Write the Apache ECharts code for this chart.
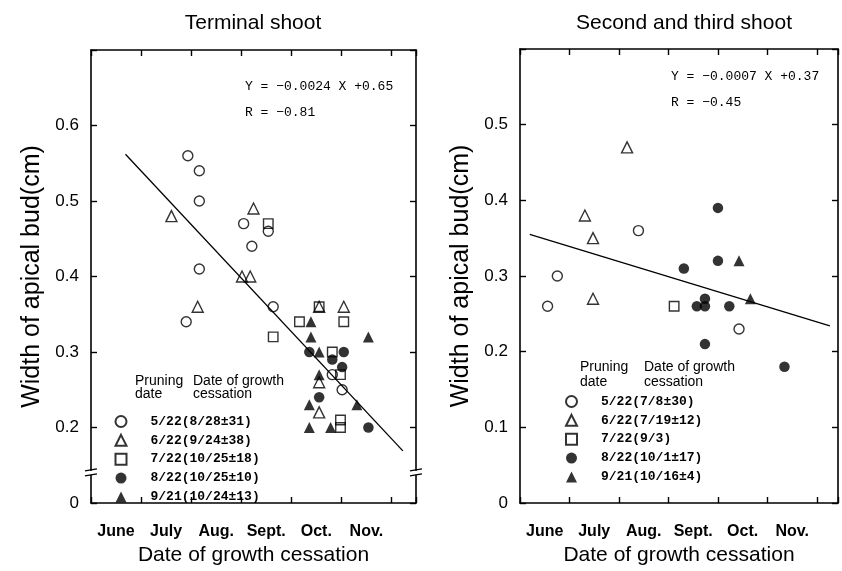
<!DOCTYPE html>
<html><head><meta charset="utf-8">
<script src="https://cdn.jsdelivr.net/npm/echarts@6/dist/echarts.min.js"></script>
<style>html,body{margin:0;padding:0;background:#fff}#c{width:842px;height:571px}</style>
</head><body><div id="c"></div>
<script>
// ---------- data (x = days after June 1, y = width of apical bud in cm) ----------
const monthLabels = ['June', 'July', 'Aug.', 'Sept.', 'Oct.', 'Nov.'];
const leftYTickValues = [0.1, 0.2, 0.3, 0.4, 0.5, 0.6, 0.7];
const leftYTickLabels = ['0', '0.2', '0.3', '0.4', '0.5', '0.6', ''];
const rightYTickValues = [0, 0.1, 0.2, 0.3, 0.4, 0.5, 0.6];
const rightYTickLabels = ['0', '0.1', '0.2', '0.3', '0.4', '0.5', ''];

const leftNames = ['5/22(8/28±31)', '6/22(9/24±38)', '7/22(10/25±18)', '8/22(10/25±10)', '9/21(10/24±13)'];
const rightNames = ['5/22(7/8±30)', '6/22(7/19±12)', '7/22(9/3)', '8/22(10/1±17)', '9/21(10/16±4)'];

// Terminal shoot
const tsCircle = [[59,0.56],[66,0.54],[66,0.50],[93,0.47],[108,0.46],[98,0.44],[66,0.41],[111,0.36],[58,0.34],[147,0.27],[153,0.25]];
const tsTriangle = [[49,0.48],[99,0.49],[92,0.40],[97,0.40],[65,0.36],[154,0.36],[139,0.36],[139,0.26],[139,0.22]];
const tsSquare = [[108,0.47],[111,0.32],[139,0.36],[127,0.34],[154,0.34],[147,0.30],[152,0.27],[152,0.21],[152,0.20]];
const tsFilledCircle = [[133,0.30],[154,0.30],[147,0.29],[153,0.28],[139,0.24],[169,0.20]];
const tsFilledTriangle = [[134,0.34],[134,0.32],[169,0.32],[139,0.30],[139,0.27],[133,0.23],[162,0.23],[133,0.20],[146,0.20]];
const tsRegression = [[21,0.562],[190,0.169]];
const tsEquation = 'Y = −0.0024 X +0.65\nR = −0.81';

// Second and third shoot
const ssCircle = [[17,0.26],[23,0.30],[73,0.36],[135,0.23]];
const ssTriangle = [[40,0.38],[45,0.35],[45,0.27],[66,0.47]];
const ssSquare = [[95,0.26]];
const ssFilledCircle = [[122,0.39],[122,0.32],[101,0.31],[109,0.26],[114,0.27],[114,0.26],[129,0.26],[114,0.21],[163,0.18]];
const ssFilledTriangle = [[135,0.32],[142,0.27]];
const ssRegression = [[6,0.355],[191,0.234]];
const ssEquation = 'Y = −0.0007 X +0.37\nR = −0.45';

// ---------- chart ----------
const SANS = "'Liberation Sans', Arial, Helvetica, sans-serif";
const MONO = "'Liberation Mono', 'DejaVu Sans Mono', monospace";
const INK = '#000';
const chart = echarts.init(document.getElementById('c'), null, {renderer: 'canvas'});

const grids = [
  {left: 91, top: 50, width: 325, height: 458},
  {left: 520, top: 49, width: 318, height: 459}
];
const xMax = [198, 196];

function labelFor(values, labels) {
  return function (v) {
    for (let i = 0; i < values.length; i++) if (Math.abs(values[i] - v) < 1e-6) return labels[i];
    return '';
  };
}
function monthFormatter(v) {
  const k = Math.round(v / 15.25);
  if (Math.abs(k * 15.25 - v) > 1e-6 || k % 2 === 0) return '';
  return monthLabels[(k - 1) / 2] || '';
}

const xAxes = [], yAxes = [];
[0, 1].forEach(function (g) {
  const lineStyle = {color: INK, width: 1.6};
  xAxes.push({
    gridIndex: g, type: 'value', position: 'bottom', min: 0, max: xMax[g], interval: 30.5,
    axisLine: {onZero: false, lineStyle: lineStyle},
    axisTick: {inside: true, length: 6, lineStyle: {color: INK, width: 1.4}},
    axisLabel: {show: false}, splitLine: {show: false},
    name: 'Date of growth cessation', nameLocation: 'middle', nameGap: 42,
    nameTextStyle: {fontFamily: SANS, fontSize: 21, color: INK}
  });
  xAxes.push({
    gridIndex: g, type: 'value', position: 'top', min: 0, max: xMax[g], interval: 30.5,
    axisLine: {onZero: false, lineStyle: lineStyle},
    axisTick: {inside: true, length: 6, lineStyle: {color: INK, width: 1.4}},
    axisLabel: {show: false}, splitLine: {show: false}
  });
  xAxes.push({
    gridIndex: g, type: 'value', position: 'bottom', min: 0, max: xMax[g], interval: 15.25,
    axisLine: {show: false}, axisTick: {show: false}, splitLine: {show: false},
    axisLabel: {margin: 21, formatter: monthFormatter, fontFamily: SANS, fontSize: 16, fontWeight: 'bold', color: INK}
  });
  const yv = g === 0 ? leftYTickValues : rightYTickValues;
  const yl = g === 0 ? leftYTickLabels : rightYTickLabels;
  yAxes.push({
    gridIndex: g, type: 'value', position: 'left', min: yv[0], max: yv[yv.length - 1], interval: 0.1,
    axisLine: {onZero: false, lineStyle: lineStyle},
    axisTick: {inside: true, length: 6, lineStyle: {color: INK, width: 1.4}},
    axisLabel: {margin: 12, formatter: labelFor(yv, yl), fontFamily: SANS, fontSize: 17, color: INK},
    splitLine: {show: false},
    name: 'Width of apical bud(cm)', nameLocation: 'middle', nameGap: 46,
    nameTextStyle: {fontFamily: SANS, fontSize: 25, color: INK}
  });
  yAxes.push({
    gridIndex: g, type: 'value', position: 'right', min: yv[0], max: yv[yv.length - 1], interval: 0.1,
    axisLine: {onZero: false, lineStyle: lineStyle},
    axisTick: {inside: true, length: 6, lineStyle: {color: INK, width: 1.4}},
    axisLabel: {show: false}, splitLine: {show: false}
  });
});

const openStyle = {color: 'rgba(255,255,255,0)', borderColor: INK, borderWidth: 1.4};
const filledStyle = {color: INK, borderColor: INK, borderWidth: 0};
const kinds = [
  {symbol: 'circle', size: 10, style: openStyle},
  {symbol: 'triangle', size: 11, style: openStyle},
  {symbol: 'rect', size: 9.5, style: openStyle},
  {symbol: 'circle', size: 10.5, style: filledStyle},
  {symbol: 'triangle', size: 11, style: filledStyle}
];
const leftSets = [tsCircle, tsTriangle, tsSquare, tsFilledCircle, tsFilledTriangle];
const rightSets = [ssCircle, ssTriangle, ssSquare, ssFilledCircle, ssFilledTriangle];

const series = [];
[[leftSets, leftNames, 0], [rightSets, rightNames, 1]].forEach(function (p) {
  const sets = p[0], names = p[1], g = p[2];
  sets.forEach(function (d, i) {
    series.push({
      type: 'scatter', name: names[i], data: d,
      xAxisIndex: g * 3, yAxisIndex: g * 2,
      symbol: kinds[i].symbol, symbolSize: kinds[i].size, itemStyle: kinds[i].style,
      emphasis: {disabled: true}, z: 3
    });
  });
  series.push({
    type: 'line', data: g === 0 ? tsRegression : ssRegression,
    xAxisIndex: g * 3, yAxisIndex: g * 2, showSymbol: false, symbol: 'none',
    lineStyle: {color: INK, width: 1.3}, emphasis: {disabled: true}, z: 2, silent: true
  });
});

function legendFor(names, left, top) {
  return {
    data: names, orient: 'vertical', left: left, top: top, padding: 0,
    itemWidth: 11, itemHeight: 11, itemGap: 5.85, selectedMode: false,
    textStyle: {fontFamily: MONO, fontSize: 13, fontWeight: 'bold', color: INK, lineHeight: 12, padding: [0, 0, 0, 19]}
  };
}

function txt(text, left, top, opts) {
  return Object.assign({
    text: text, left: left, top: top, padding: 0,
    textStyle: Object.assign({fontFamily: SANS, fontWeight: 'normal', color: INK}, opts.style)
  }, opts.extra || {});
}

chart.setOption({
  backgroundColor: '#fff',
  animation: false,
  title: [
    txt('Terminal shoot', 253, 12, {style: {fontSize: 21, lineHeight: 22}, extra: {textAlign: 'center'}}),
    txt('Second and third shoot', 684, 12, {style: {fontSize: 21, lineHeight: 22}, extra: {textAlign: 'center'}}),
    txt(tsEquation, 245, 74, {style: {fontFamily: MONO, fontSize: 13, lineHeight: 26}}),
    txt(ssEquation, 671, 64, {style: {fontFamily: MONO, fontSize: 13, lineHeight: 26}}),
    txt('Pruning\ndate', 135, 375, {style: {fontSize: 14, lineHeight: 13}}),
    txt('Date of growth\ncessation', 193, 375, {style: {fontSize: 14, lineHeight: 13}}),
    txt('Pruning\ndate', 580, 360, {style: {fontSize: 14, lineHeight: 15}}),
    txt('Date of growth\ncessation', 644, 360, {style: {fontSize: 14, lineHeight: 15}})
  ],
  legend: [legendFor(leftNames, 114.5, 415), legendFor(rightNames, 565, 395)],
  grid: grids.map(function (r) { return Object.assign({containLabel: false}, r); }),
  xAxis: xAxes,
  yAxis: yAxes,
  series: series
});

// axis-break marks on the left panel (between 0 and 0.2)
const breakValue = 0.14;
const by = chart.convertToPixel({yAxisIndex: 0}, breakValue);
const edges = [chart.convertToPixel({xAxisIndex: 0}, 0), chart.convertToPixel({xAxisIndex: 0}, xMax[0])];
const gfx = [];
edges.forEach(function (ex) {
  gfx.push({type: 'rect', shape: {x: ex - 2, y: by - 2, width: 4, height: 4}, style: {fill: '#fff'}, z: 100, silent: true});
  gfx.push({type: 'line', shape: {x1: ex - 6, y1: by - 2, x2: ex + 6, y2: by - 4}, style: {stroke: INK, lineWidth: 1.3}, z: 101, silent: true});
  gfx.push({type: 'line', shape: {x1: ex - 6, y1: by + 3, x2: ex + 6, y2: by + 1}, style: {stroke: INK, lineWidth: 1.3}, z: 101, silent: true});
});
chart.setOption({graphic: gfx});
</script>
</body></html>
